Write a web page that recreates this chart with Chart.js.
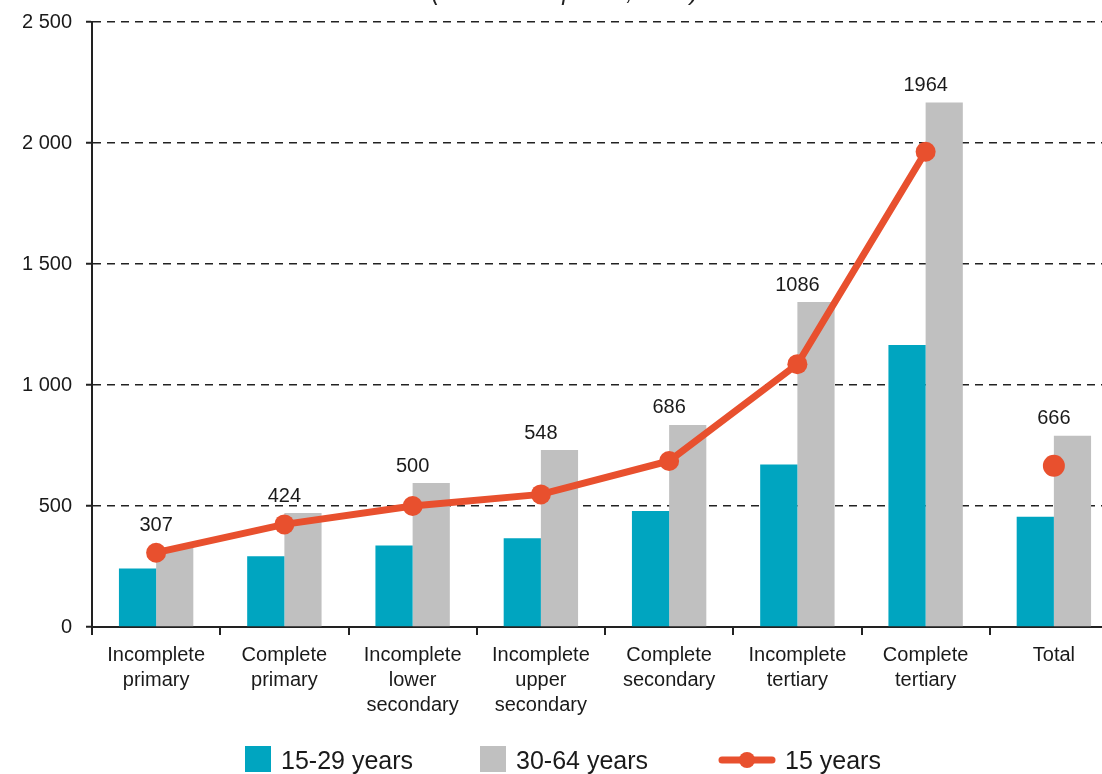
<!DOCTYPE html>
<html>
<head>
<meta charset="utf-8">
<script src="https://cdn.jsdelivr.net/npm/chart.js@4.4.1/dist/chart.umd.min.js"></script>
<style>
    html, body { margin: 0; padding: 0; background: #fff; overflow: hidden; }
    body { width: 1102px; height: 774px; position: relative; font-family: "Liberation Sans", Arial, sans-serif; }
    #wrap { position: absolute; left: 0; top: 0; width: 1130px; height: 774px; }
    #title { position: absolute; left: 0; width: 1130px; top: -22px; text-align: center; font-style: italic; font-size: 24px; color: #222; }
    #legend { position: absolute; top: 745px; left: 0; width: 1102px; height: 30px; font-size: 25px; color: #1a1a1a; }
    #legend .item { position: absolute; top: 0; height: 30px; line-height: 30px; white-space: nowrap; }
    #legend .box { display: inline-block; width: 26px; height: 26px; vertical-align: -3px; margin-right: 10px; }
</style>
</head>
<body>
<div id="wrap"><canvas id="chart"></canvas></div>
<div id="title">(in constant prices, UAH)</div>
<div id="legend">
    <div class="item" style="left:245px"><span class="box" style="background:#00A5C0"></span>15-29 years</div>
    <div class="item" style="left:480px"><span class="box" style="background:#C0C0C0"></span>30-64 years</div>
    <div class="item" style="left:718px"><svg width="58" height="26" style="vertical-align:-4px;margin-right:9px"><line x1="4" y1="13" x2="54" y2="13" stroke="#E8502E" stroke-width="7" stroke-linecap="round"/><circle cx="29" cy="13" r="8" fill="#E8502E"/></svg>15 years</div>
</div>
<script>
    "use strict";

    // Data
    var categories = [
        ["Incomplete", "primary"],
        ["Complete", "primary"],
        ["Incomplete", "lower", "secondary"],
        ["Incomplete", "upper", "secondary"],
        ["Complete", "secondary"],
        ["Incomplete", "tertiary"],
        ["Complete", "tertiary"],
        ["Total"]
    ];
    var young = [242, 292, 337, 367, 479, 672, 1165, 456];
    var older = [330, 471, 595, 731, 835, 1343, 2167, 790];
    var age15 = [307, 424, 500, 548, 686, 1086, 1964, 666];
    var yTicks = [0, 500, 1000, 1500, 2000, 2500];

    var teal = "#00A5C0";
    var grey = "#C0C0C0";
    var orange = "#E8502E";

    Chart.defaults.font.family = "'Liberation Sans', Arial, sans-serif";
    Chart.defaults.color = "#1a1a1a";

    // labels above each group
    var valueLabels = {
        id: "valueLabels",
        afterDatasetsDraw: function (chart) {
            var ctx = chart.ctx;
            var greyMeta = chart.getDatasetMeta(1);
            var lineMeta = chart.getDatasetMeta(2);
            ctx.save();
            ctx.font = "20px 'Liberation Sans', Arial, sans-serif";
            ctx.fillStyle = "#1a1a1a";
            ctx.textAlign = "center";
            ctx.textBaseline = "middle";
            age15.forEach(function (v, i) {
                var pt = lineMeta.data[i];
                var bar = greyMeta.data[i];
                var y = Math.min(bar.y, pt.y - 10) - 17;
                ctx.fillText(String(v), pt.x, y);
            });
            ctx.restore();
        }
    };

    var ctx = document.getElementById("chart").getContext("2d");
    var myChart = new Chart(ctx, {
        data: {
            labels: categories,
            datasets: [{
                    type: "bar",
                    label: "15-29 years",
                    data: young,
                    backgroundColor: teal,
                    barPercentage: 1,
                    categoryPercentage: 0.58,
                    order: 2
                },
                {
                    type: "bar",
                    label: "30-64 years",
                    data: older,
                    backgroundColor: grey,
                    barPercentage: 1,
                    categoryPercentage: 0.58,
                    order: 2
                },
                {
                    type: "line",
                    label: "15 years",
                    data: age15,
                    borderColor: orange,
                    backgroundColor: orange,
                    borderWidth: 7,
                    pointRadius: [10, 10, 10, 10, 10, 10, 10, 11],
                    pointBorderWidth: 0,
                    tension: 0,
                    segment: {
                        borderColor: function (c) { return c.p1DataIndex === 7 ? "rgba(0,0,0,0)" : orange; }
                    },
                    order: 0
                }
            ]
        },
        options: {
            responsive: true,
            maintainAspectRatio: false,
            animation: false,
            layout: { padding: { top: 22, right: 12, bottom: 48, left: 0 } },
            plugins: {
                legend: { display: false },
                tooltip: { enabled: false }
            },
            scales: {
                x: {
                    offset: true,
                    grid: {
                        offset: true,
                        drawOnChartArea: false,
                        tickLength: 8,
                        color: "#222",
                        lineWidth: 2
                    },
                    border: { color: "#222", width: 2 },
                    ticks: {
                        font: { size: 20, lineHeight: 1.25 },
                        padding: 8,
                        maxRotation: 0,
                        autoSkip: false
                    }
                },
                y: {
                    min: 0,
                    max: 2500,
                    afterFit: function (scale) {
                        scale.width = 92;
                        scale.paddingTop = 0;
                        scale.paddingBottom = 0;
                    },
                    afterBuildTicks: function (scale) {
                        scale.ticks = yTicks.map(function (v) { return { value: v }; });
                    },
                    grid: {
                        color: "#222",
                        lineWidth: 1.5,
                        tickLength: 6,
                        tickColor: "#222",
                        tickWidth: 2
                    },
                    border: { color: "#222", width: 2, dash: [8, 6] },
                    ticks: {
                        font: { size: 20 },
                        padding: 14,
                        callback: function (v) {
                            return String(v).replace(/\B(?=(\d{3})+(?!\d))/g, " ");
                        }
                    }
                }
            }
        },
        plugins: [valueLabels]
    });
</script>
</body>
</html>
